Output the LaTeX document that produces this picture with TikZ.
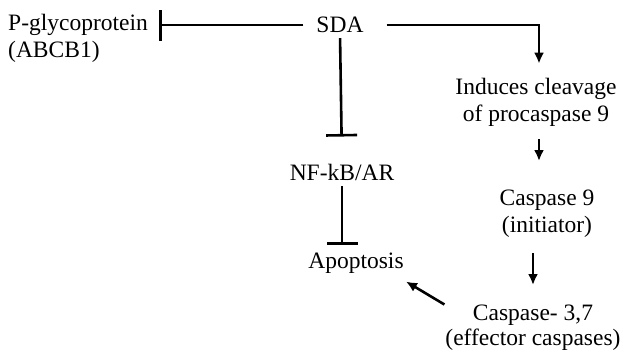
\documentclass[tikz,border=0pt]{standalone}
\usepackage{fontspec}
\setmainfont{Liberation Serif}
\usetikzlibrary{arrows.meta,positioning}

\begin{document}
\begin{tikzpicture}[x=1pt,y=-1pt]
		\tikzstyle{txt}=[font=\fontsize{23.5}{27}\selectfont, align=center, inner sep=1pt]
		\tikzstyle{act}=[-{Latex[length=11pt,width=10pt]}, line width=2.6pt]
		\tikzstyle{inh}=[-{Bar[width=31pt,line width=2.6pt]}, line width=2.6pt]
		\useasboundingbox (0,0) rectangle (625,351);
		
		\node[txt, align=left, anchor=west] (pgp) at (7,38) {P-glycoprotein\\(ABCB1)};
		\node[txt] (sda) at (340,25) {SDA};
		\node[txt] (cleave) at (536,102) {Induces cleavage\\of procaspase 9};
		\node[txt] (casp9) at (547,214) {Caspase 9\\(initiator)};
		\node[txt, inner sep=0pt, font=\fontsize{23.5}{25}\selectfont] (casp37) at (533,328) {Caspase- 3,7\\(effector caspases)};
		\node[txt] (nfkb) at (342,172) {NF-kB/AR};
		\node[txt] (apop) at (356,263) {Apoptosis};
		
		\path (sda.west) edge [inh, shorten <=12pt, shorten >=10pt] (pgp.east |- sda.west);
		\draw[act, shorten <=22pt, shorten >=13pt] (sda.east) -| ([xshift=3pt]cleave.north);
		\path (sda.south) edge [inh, shorten <=4pt, shorten >=26pt] (nfkb.north);
		\path (nfkb.south) edge [inh, shorten <=5pt, shorten >=7pt] (nfkb.south |- apop.north);
		\path ([xshift=3pt]cleave.south) edge [act, shorten <=12pt, shorten >=28pt] ([xshift=3pt]cleave.south |- casp9.north);
		\path ([xshift=-14pt]casp9.south) edge [act, shorten <=14pt, shorten >=20pt] ([xshift=-14pt]casp9.south |- casp37.north);
		\path (casp37.north west) edge [act, shorten <=1pt, shorten >=6pt] ([xshift=-4pt,yshift=-4pt]apop.south east);
		
	\end{tikzpicture}
\end{document}
